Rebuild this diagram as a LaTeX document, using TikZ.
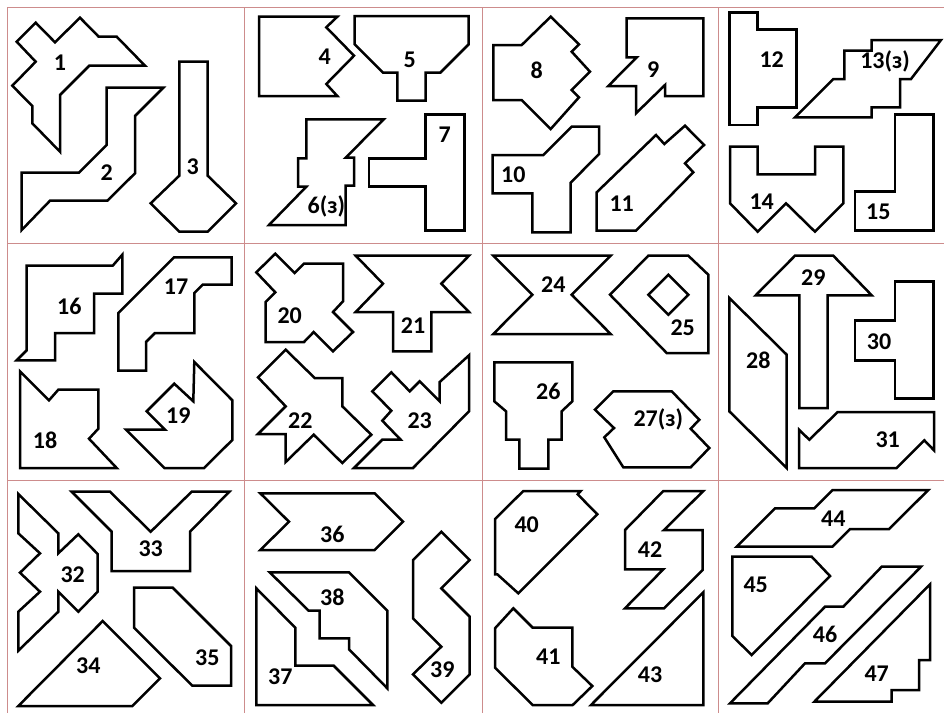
\documentclass[tikz,border=0pt]{standalone}
\usepackage{fontspec}
\setmainfont{Carlito}
\definecolor{gridc}{RGB}{205,140,140}
\begin{document}
\begin{tikzpicture}[x=1pt,y=-1pt,
  piece/.style={draw=black,line width=2.5pt,line join=miter},
  lab/.style={font=\fontsize{24}{28}\selectfont\bfseries,inner sep=0pt},
  gridline/.style={draw=gridc,line width=0.8pt}]
\useasboundingbox (0,0) rectangle (944,713);
\fill[white] (0,0) rectangle (944,713);
% grid
\draw[gridline] (7,7) -- (944,7);
\draw[gridline] (7,243) -- (944,243);
\draw[gridline] (7,480) -- (944,480);
\draw[gridline] (7,7) -- (7,713);
\draw[gridline] (244,7) -- (244,713);
\draw[gridline] (482,7) -- (482,713);
\draw[gridline] (718,7) -- (718,713);
% cell 1
\draw[piece] (16.7,41.7) -- (35.7,22.7) -- (55,42.3) -- (80,17.7) -- (98.7,36.7) -- (116.7,36.7) -- (145,65.7) -- (89.3,65.7) -- (60,95) -- (60,151.7) -- (32.3,123.3) -- (32.3,106) -- (12.3,85.7) -- (35.7,61.7) -- cycle;
\node[lab] (l1) at (60,63) {1};
\draw[piece] (21.7,172.7) -- (79,172.7) -- (106.7,145) -- (106.7,87.7) -- (163.3,87.7) -- (135,116) -- (135,173.3) -- (107.3,200.7) -- (50,200.7) -- (21.7,230) -- cycle;
\node[lab] (l2) at (106.7,173) {2};
\draw[piece] (179.3,61.7) -- (207.7,61.7) -- (207.7,175.7) -- (236,203.3) -- (207.7,231.7) -- (179.3,231.7) -- (150.7,203.3) -- (179.3,175.7) -- cycle;
\node[lab] (l3) at (192.7,166.7) {3};
% cell 2
\draw[piece] (259,16.7) -- (337.3,16.7) -- (326.3,27.3) -- (354,55.7) -- (326.3,84) -- (337.3,96) -- (259,96) -- cycle;
\node[lab] (l4) at (324.7,56.7) {4};
\draw[piece] (354.7,16) -- (468.7,16) -- (468.7,44.3) -- (440.3,72.7) -- (425.7,72.7) -- (425.7,100.7) -- (397.3,100.7) -- (397.3,72.7) -- (383,72.7) -- (354.7,44.3) -- cycle;
\node[lab] (l5) at (409.7,60) {5};
\draw[piece] (306.3,119.3) -- (383.7,119.3) -- (345.7,157.7) -- (354,157.7) -- (354,185.7) -- (345.7,185.7) -- (345.7,225) -- (269,225) -- (306.3,186.7) -- (298,186.7) -- (298,158.3) -- (306.3,158.3) -- cycle;
\node[lab] (l6) at (326.3,206.7) {6(з)};
\draw[piece] (425.7,114.3) -- (464.7,114.3) -- (464.7,230.7) -- (425.7,230.7) -- (425.7,186.7) -- (369,186.7) -- (369,158.3) -- (425.7,158.3) -- cycle;
\node[lab] (l7) at (444.7,135) {7};
% cell 3
\draw[piece] (493.3,45) -- (521.7,45) -- (550.7,16.7) -- (579,44.3) -- (571.7,51.7) -- (590,71.7) -- (571.7,90) -- (579,97.3) -- (550.7,129) -- (521.7,100) -- (493.3,100) -- cycle;
\node[lab] (l8) at (536.7,70) {8};
\draw[piece] (626.7,18.3) -- (703.3,18.3) -- (703.3,96) -- (665,96) -- (665,85) -- (636,113.3) -- (636,86) -- (608.3,86) -- (636.7,57.3) -- (626.7,57.3) -- cycle;
\node[lab] (l9) at (653.3,70) {9};
\draw[piece] (492.7,155) -- (543.3,155) -- (571.7,126.7) -- (599,126.7) -- (599,154) -- (570.7,182.7) -- (570.7,232.3) -- (532.3,232.3) -- (532.3,193.3) -- (492.7,193.3) -- cycle;
\node[lab] (l10) at (513.3,175) {10};
\draw[piece] (596.7,192.3) -- (656,135) -- (664.3,144) -- (685,125.7) -- (704,145) -- (685,163.3) -- (693.3,172.3) -- (636,230.7) -- (596.7,230.7) -- cycle;
\node[lab] (l11) at (621.7,204) {11};
% cell 4
\draw[piece] (729.3,12.3) -- (757.3,12.3) -- (757.3,29.3) -- (796.7,29.3) -- (796.7,107.3) -- (757.3,107.3) -- (757.3,125) -- (729.3,125) -- cycle;
\node[lab] (l12) at (771.7,59.3) {12};
\draw[piece] (795,117.3) -- (833.3,79) -- (844.3,79) -- (844.3,50.7) -- (871.7,50.7) -- (871.7,40) -- (941,40) -- (911,79) -- (900,79) -- (900,107.3) -- (871.7,107.3) -- (871.7,117.3) -- cycle;
\node[lab] (l13) at (885,61.7) {13(з)};
\draw[piece] (730,146.7) -- (757.7,146.7) -- (757.7,174.3) -- (815,174.3) -- (815,146.7) -- (843.3,146.7) -- (843.3,203.3) -- (815,231.7) -- (786,203.3) -- (757.7,231.7) -- (730,203.3) -- cycle;
\node[lab] (l14) at (761.7,201.7) {14};
\draw[piece] (895,114.3) -- (933.3,114.3) -- (933.3,230.7) -- (855,230.7) -- (855,191.7) -- (895,191.7) -- cycle;
\node[lab] (l15) at (878.3,211.7) {15};
% cell 5
\draw[piece] (26.7,265.7) -- (112.7,265.7) -- (122.3,254.7) -- (122.3,293.7) -- (94,293.7) -- (94,333) -- (55,333) -- (55,360.3) -- (16.7,360.3) -- (26.7,350.3) -- cycle;
\node[lab] (l16) at (69.3,306.3) {16};
\draw[piece] (118.3,313) -- (174,257.3) -- (231.7,257.3) -- (231.7,284.7) -- (202.7,284.7) -- (194.3,293) -- (194.3,333) -- (155,333) -- (146,342) -- (146,370.7) -- (118.3,370.7) -- cycle;
\node[lab] (l17) at (176,286.3) {17};
\draw[piece] (20,371.3) -- (49,400.3) -- (58.3,389.7) -- (98.3,389.7) -- (98.3,428.7) -- (89,438.7) -- (116.7,468) -- (20,468) -- cycle;
\node[lab] (l18) at (45,440.7) {18};
\draw[piece] (194.3,362) -- (232.3,400.3) -- (232.3,440) -- (204,468) -- (164.3,468) -- (126,429.7) -- (165,429.7) -- (146.7,411.3) -- (174.3,383.7) -- (193.3,401.3) -- cycle;
\node[lab] (l19) at (178.3,415.3) {19};
% cell 6
\draw[piece] (256.3,272.3) -- (275.3,253.7) -- (294.7,273) -- (304,263.7) -- (343,263.7) -- (343,301.3) -- (333,312) -- (353,332) -- (333,351.3) -- (313.7,332) -- (304,342) -- (265.7,342) -- (265.7,302) -- (275.3,292.3) -- cycle;
\node[lab] (l20) at (289.7,315.3) {20};
\draw[piece] (355.7,255.7) -- (469,255.7) -- (441.3,283.7) -- (469,312) -- (431.3,312) -- (431.3,351.3) -- (393,351.3) -- (393,312) -- (355.7,312) -- (383,283.7) -- cycle;
\node[lab] (l21) at (413,325.3) {21};
\draw[piece] (258,377.3) -- (285.7,349.7) -- (314.7,378) -- (342.3,378) -- (342.3,406.3) -- (371.3,434.7) -- (342.3,463) -- (313.7,434.7) -- (285.7,462) -- (285.7,434) -- (258,434) -- (285.7,406.3) -- cycle;
\node[lab] (l22) at (300.3,420.7) {22};
\draw[piece] (372.3,391.3) -- (391.3,372.3) -- (409.7,391.3) -- (419.7,381.3) -- (439.7,401.3) -- (439.7,382) -- (469,355.3) -- (469,411.3) -- (413,468) -- (354,468) -- (382.3,439.7) -- (400.7,439.7) -- (382.3,420.7) -- (391.3,410.7) -- cycle;
\node[lab] (l23) at (419.7,420.7) {23};
% cell 7
\draw[piece] (493.3,255.7) -- (610.7,255.7) -- (571.7,294.7) -- (610.7,334) -- (493.3,334) -- (532.3,294.7) -- cycle;
\node[lab] (l24) at (553.3,284.7) {24};
\draw[piece] (610,294.7) -- (648.3,255.7) -- (688.3,255.7) -- (708.3,274.7) -- (708.3,353) -- (666.7,353) -- cycle;
\draw[piece] (668.3,274.7) -- (688.3,294.7) -- (668.3,314.7) -- (648.3,294.7) -- cycle;
\node[lab] (l25) at (682.7,327.3) {25};
\draw[piece] (494.3,362.3) -- (572.3,362.3) -- (572.3,401.3) -- (561.7,411.3) -- (561.7,439.7) -- (548.3,439.7) -- (548.3,468.7) -- (519.3,468.7) -- (519.3,439.7) -- (506,439.7) -- (506,411.3) -- (494.3,401.3) -- cycle;
\node[lab] (l26) at (548.3,391.3) {26};
\draw[piece] (595,409.7) -- (613.3,391.3) -- (671.7,391.3) -- (699.3,419.7) -- (690.7,428.7) -- (709.3,448) -- (690.7,467.3) -- (623.3,467.3) -- (604.3,437.3) -- (614,428) -- cycle;
\node[lab] (l27) at (658.3,419.7) {27(з)};
% cell 8
\draw[piece] (729.3,298) -- (786.7,354.7) -- (786.7,468) -- (729.3,411.3) -- cycle;
\node[lab] (l28) at (758.3,360.7) {28};
\draw[piece] (755.7,295.3) -- (795,255.7) -- (833.3,255.7) -- (871.7,295.3) -- (827.7,295.3) -- (827.7,408) -- (799.3,408) -- (799.3,295.3) -- cycle;
\node[lab] (l29) at (813.3,278) {29};
\draw[piece] (895,281.3) -- (933.3,281.3) -- (933.3,398.7) -- (895,398.7) -- (895,360.3) -- (855,360.3) -- (855,320.7) -- (895,320.7) -- cycle;
\node[lab] (l30) at (879,341.3) {30};
\draw[piece] (799,429.7) -- (809.3,439.7) -- (837.7,412) -- (934,412) -- (934,450.3) -- (924.3,440.3) -- (896.7,468) -- (799,468) -- cycle;
\node[lab] (l31) at (887.7,439.7) {31};
% cell 9
\draw[piece] (18.3,494) -- (58.3,533.3) -- (58.3,553.3) -- (78.3,534.3) -- (97.7,554) -- (97.7,591.7) -- (78.3,611.7) -- (58.3,591.7) -- (58.3,611.7) -- (18.3,650.7) -- (18.3,611.7) -- (40,591.7) -- (20,572.7) -- (40,553.3) -- (18.3,533.3) -- cycle;
\node[lab] (l32) at (72.7,574.3) {32};
\draw[piece] (71.7,491.7) -- (110,491.7) -- (150.7,531.7) -- (191.7,491.7) -- (229.3,491.7) -- (190,531.7) -- (190,571) -- (111.7,571) -- (111.7,531.7) -- cycle;
\node[lab] (l33) at (150.7,549) {33};
\draw[piece] (102.7,621) -- (160,678.3) -- (132.3,706) -- (18.3,706) -- cycle;
\node[lab] (l34) at (88.3,665.7) {34};
\draw[piece] (134,587.7) -- (172.7,587.7) -- (231,646) -- (231,685.7) -- (192.3,685.7) -- (134,627.7) -- cycle;
\node[lab] (l35) at (207.3,657.7) {35};
% cell 10
\draw[piece] (260.3,493.3) -- (374.7,493.3) -- (403,521.7) -- (374.7,550) -- (260.3,550) -- (289,521.7) -- cycle;
\node[lab] (l36) at (332.3,534.3) {36};
\draw[piece] (256.3,588.3) -- (295.3,627.7) -- (295.3,665.7) -- (333.7,665.7) -- (373,705) -- (256.3,705) -- cycle;
\node[lab] (l37) at (280.3,676.7) {37};
\draw[piece] (269.7,572.3) -- (349,572.3) -- (387.3,610.7) -- (387.3,688.3) -- (349,649.3) -- (349,638.3) -- (319.7,638.3) -- (319.7,610.7) -- (308.7,610.7) -- cycle;
\node[lab] (l38) at (332.3,597.7) {38};
\draw[piece] (413,560) -- (441.3,531.7) -- (469.7,560) -- (441.3,588.3) -- (469.7,616.7) -- (469.7,674.3) -- (441.3,702.7) -- (413,674.3) -- (441.3,646.7) -- (413,618.3) -- cycle;
\node[lab] (l39) at (442.3,669.3) {39};
% cell 11
\draw[piece] (523.3,491) -- (580.7,491) -- (577.7,494.3) -- (597.3,514.3) -- (518.3,593.3) -- (497.3,574.3) -- (495,574.3) -- (495,519) -- cycle;
\node[lab] (l40) at (526.7,524.3) {40};
\draw[piece] (495,628.3) -- (513.3,608.3) -- (532.7,627.7) -- (572.3,627.7) -- (572.3,666.7) -- (592.3,686) -- (572.7,705) -- (532.7,705) -- (495,667.7) -- cycle;
\node[lab] (l41) at (548.3,656.7) {41};
\draw[piece] (625,530) -- (663.3,491) -- (703.3,491) -- (664,530) -- (702.7,530) -- (702.7,570) -- (664,608.3) -- (625,608.3) -- (663.3,569.3) -- (625,569.3) -- cycle;
\node[lab] (l42) at (650,550) {42};
\draw[piece] (703.3,592.3) -- (703.3,705) -- (591,705) -- cycle;
\node[lab] (l43) at (650,675) {43};
% cell 12
\draw[piece] (736.7,546.7) -- (775,508.3) -- (814.3,508.3) -- (832.7,490) -- (928.3,490) -- (889,529) -- (850,529) -- (832.3,546.7) -- cycle;
\node[lab] (l44) at (833.3,518.3) {44};
\draw[piece] (732.3,556.7) -- (811.7,556.7) -- (830,576) -- (751.7,655) -- (732.3,636) -- cycle;
\node[lab] (l45) at (755.7,584.3) {45};
\draw[piece] (730,703.3) -- (825,606.7) -- (843.3,606.7) -- (881.7,566.7) -- (921,566.7) -- (825,663.3) -- (805,663.3) -- (767.7,703.3) -- cycle;
\node[lab] (l46) at (825,634.3) {46};
\draw[piece] (930,584.3) -- (930,660) -- (919,660) -- (919,690) -- (891.7,690) -- (891.7,701.7) -- (814.3,701.7) -- cycle;
\node[lab] (l47) at (876.7,673.3) {47};
\end{tikzpicture}
\end{document}
